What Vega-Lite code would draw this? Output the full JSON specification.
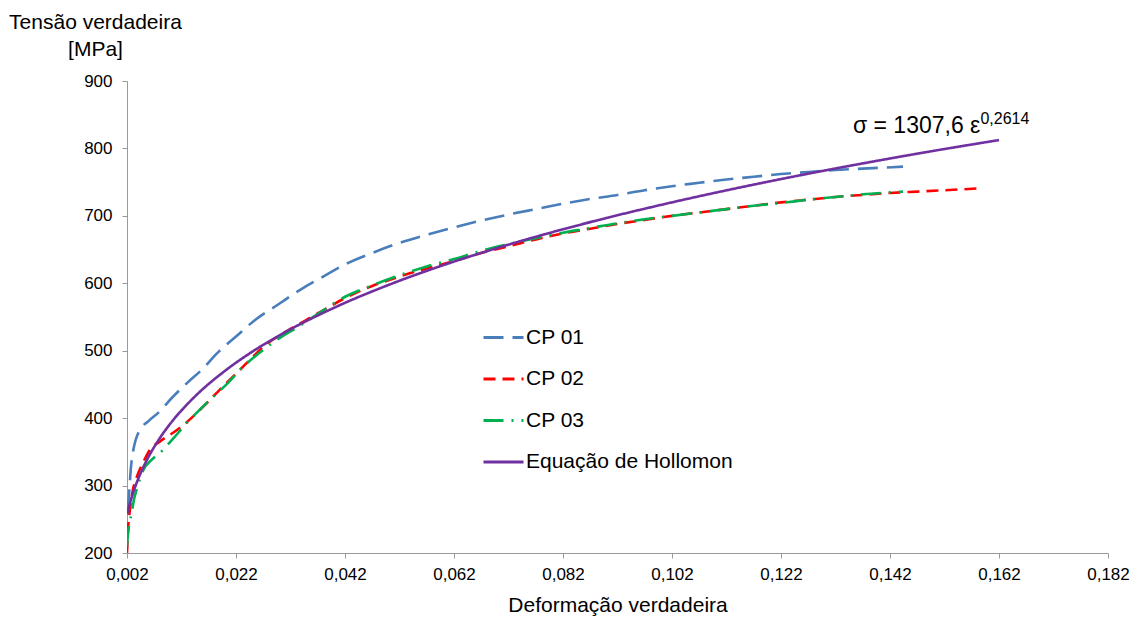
{
  "$schema": "https://vega.github.io/schema/vega-lite/v6.json",
  "autosize": "none",
  "width": 981,
  "height": 472,
  "padding": {"left": 127, "top": 81, "right": 32, "bottom": 64},
  "background": "white",
  "config": {
    "view": {"stroke": null},
    "font": "Liberation Sans",
    "axis": {"labelFont": "Liberation Sans", "titleFont": "Liberation Sans", "labelColor": "#000000", "titleColor": "#000000", "titleFontWeight": "normal", "domainColor": "#9a9a9a", "tickColor": "#9a9a9a", "grid": false, "labelFlush": false}
  },
  "datasets": {
    "curves": [
      {"serie": "CP 01", "eps": 0.0021, "sigma": 265},
      {"serie": "CP 01", "eps": 0.0024, "sigma": 290},
      {"serie": "CP 01", "eps": 0.0027, "sigma": 325},
      {"serie": "CP 01", "eps": 0.0031, "sigma": 350},
      {"serie": "CP 01", "eps": 0.0036, "sigma": 368},
      {"serie": "CP 01", "eps": 0.0045, "sigma": 384},
      {"serie": "CP 01", "eps": 0.006, "sigma": 396},
      {"serie": "CP 01", "eps": 0.008, "sigma": 410},
      {"serie": "CP 01", "eps": 0.01, "sigma": 428},
      {"serie": "CP 01", "eps": 0.013, "sigma": 452},
      {"serie": "CP 01", "eps": 0.016, "sigma": 474},
      {"serie": "CP 01", "eps": 0.0185, "sigma": 496},
      {"serie": "CP 01", "eps": 0.022, "sigma": 521},
      {"serie": "CP 01", "eps": 0.0251, "sigma": 543},
      {"serie": "CP 01", "eps": 0.03, "sigma": 570},
      {"serie": "CP 01", "eps": 0.0337, "sigma": 590},
      {"serie": "CP 01", "eps": 0.038, "sigma": 610},
      {"serie": "CP 01", "eps": 0.042, "sigma": 628},
      {"serie": "CP 01", "eps": 0.047, "sigma": 645},
      {"serie": "CP 01", "eps": 0.052, "sigma": 660},
      {"serie": "CP 01", "eps": 0.057, "sigma": 672},
      {"serie": "CP 01", "eps": 0.062, "sigma": 683},
      {"serie": "CP 01", "eps": 0.067, "sigma": 693},
      {"serie": "CP 01", "eps": 0.072, "sigma": 702},
      {"serie": "CP 01", "eps": 0.077, "sigma": 710},
      {"serie": "CP 01", "eps": 0.082, "sigma": 718},
      {"serie": "CP 01", "eps": 0.087, "sigma": 725},
      {"serie": "CP 01", "eps": 0.092, "sigma": 731},
      {"serie": "CP 01", "eps": 0.097, "sigma": 738},
      {"serie": "CP 01", "eps": 0.102, "sigma": 744},
      {"serie": "CP 01", "eps": 0.107, "sigma": 749},
      {"serie": "CP 01", "eps": 0.112, "sigma": 754},
      {"serie": "CP 01", "eps": 0.117, "sigma": 758},
      {"serie": "CP 01", "eps": 0.122, "sigma": 762},
      {"serie": "CP 01", "eps": 0.127, "sigma": 765},
      {"serie": "CP 01", "eps": 0.132, "sigma": 768},
      {"serie": "CP 01", "eps": 0.137, "sigma": 770},
      {"serie": "CP 01", "eps": 0.1444, "sigma": 773},
      {"serie": "CP 02", "eps": 0.002, "sigma": 200},
      {"serie": "CP 02", "eps": 0.0022, "sigma": 235},
      {"serie": "CP 02", "eps": 0.0025, "sigma": 262},
      {"serie": "CP 02", "eps": 0.003, "sigma": 290},
      {"serie": "CP 02", "eps": 0.0038, "sigma": 313},
      {"serie": "CP 02", "eps": 0.005, "sigma": 335},
      {"serie": "CP 02", "eps": 0.0062, "sigma": 353},
      {"serie": "CP 02", "eps": 0.008, "sigma": 365},
      {"serie": "CP 02", "eps": 0.0111, "sigma": 382},
      {"serie": "CP 02", "eps": 0.0138, "sigma": 400},
      {"serie": "CP 02", "eps": 0.0166, "sigma": 422},
      {"serie": "CP 02", "eps": 0.019, "sigma": 442},
      {"serie": "CP 02", "eps": 0.0214, "sigma": 461},
      {"serie": "CP 02", "eps": 0.0245, "sigma": 486},
      {"serie": "CP 02", "eps": 0.0276, "sigma": 510},
      {"serie": "CP 02", "eps": 0.0305, "sigma": 525},
      {"serie": "CP 02", "eps": 0.0337, "sigma": 540},
      {"serie": "CP 02", "eps": 0.038, "sigma": 560},
      {"serie": "CP 02", "eps": 0.042, "sigma": 578},
      {"serie": "CP 02", "eps": 0.047, "sigma": 596},
      {"serie": "CP 02", "eps": 0.052, "sigma": 610},
      {"serie": "CP 02", "eps": 0.057, "sigma": 622},
      {"serie": "CP 02", "eps": 0.062, "sigma": 633},
      {"serie": "CP 02", "eps": 0.067, "sigma": 645},
      {"serie": "CP 02", "eps": 0.072, "sigma": 655},
      {"serie": "CP 02", "eps": 0.077, "sigma": 665},
      {"serie": "CP 02", "eps": 0.082, "sigma": 674},
      {"serie": "CP 02", "eps": 0.087, "sigma": 681},
      {"serie": "CP 02", "eps": 0.092, "sigma": 688},
      {"serie": "CP 02", "eps": 0.097, "sigma": 694},
      {"serie": "CP 02", "eps": 0.102, "sigma": 700},
      {"serie": "CP 02", "eps": 0.107, "sigma": 705},
      {"serie": "CP 02", "eps": 0.112, "sigma": 710},
      {"serie": "CP 02", "eps": 0.117, "sigma": 715},
      {"serie": "CP 02", "eps": 0.122, "sigma": 720},
      {"serie": "CP 02", "eps": 0.127, "sigma": 724},
      {"serie": "CP 02", "eps": 0.132, "sigma": 728},
      {"serie": "CP 02", "eps": 0.137, "sigma": 731},
      {"serie": "CP 02", "eps": 0.142, "sigma": 734},
      {"serie": "CP 02", "eps": 0.147, "sigma": 736},
      {"serie": "CP 02", "eps": 0.152, "sigma": 738},
      {"serie": "CP 02", "eps": 0.159, "sigma": 741},
      {"serie": "CP 03", "eps": 0.002, "sigma": 210},
      {"serie": "CP 03", "eps": 0.0022, "sigma": 230},
      {"serie": "CP 03", "eps": 0.0025, "sigma": 245},
      {"serie": "CP 03", "eps": 0.0029, "sigma": 262},
      {"serie": "CP 03", "eps": 0.0033, "sigma": 280},
      {"serie": "CP 03", "eps": 0.0038, "sigma": 295},
      {"serie": "CP 03", "eps": 0.005, "sigma": 323},
      {"serie": "CP 03", "eps": 0.0065, "sigma": 338},
      {"serie": "CP 03", "eps": 0.008, "sigma": 348},
      {"serie": "CP 03", "eps": 0.0105, "sigma": 370},
      {"serie": "CP 03", "eps": 0.013, "sigma": 393},
      {"serie": "CP 03", "eps": 0.0172, "sigma": 427},
      {"serie": "CP 03", "eps": 0.0205, "sigma": 452},
      {"serie": "CP 03", "eps": 0.0233, "sigma": 476},
      {"serie": "CP 03", "eps": 0.0265, "sigma": 498},
      {"serie": "CP 03", "eps": 0.0295, "sigma": 516},
      {"serie": "CP 03", "eps": 0.0337, "sigma": 537},
      {"serie": "CP 03", "eps": 0.038, "sigma": 560},
      {"serie": "CP 03", "eps": 0.042, "sigma": 580},
      {"serie": "CP 03", "eps": 0.047, "sigma": 597},
      {"serie": "CP 03", "eps": 0.052, "sigma": 612},
      {"serie": "CP 03", "eps": 0.057, "sigma": 625},
      {"serie": "CP 03", "eps": 0.062, "sigma": 636},
      {"serie": "CP 03", "eps": 0.067, "sigma": 648},
      {"serie": "CP 03", "eps": 0.072, "sigma": 658},
      {"serie": "CP 03", "eps": 0.077, "sigma": 667},
      {"serie": "CP 03", "eps": 0.082, "sigma": 675},
      {"serie": "CP 03", "eps": 0.087, "sigma": 682},
      {"serie": "CP 03", "eps": 0.092, "sigma": 689},
      {"serie": "CP 03", "eps": 0.097, "sigma": 695},
      {"serie": "CP 03", "eps": 0.102, "sigma": 700},
      {"serie": "CP 03", "eps": 0.107, "sigma": 705},
      {"serie": "CP 03", "eps": 0.112, "sigma": 710},
      {"serie": "CP 03", "eps": 0.117, "sigma": 715},
      {"serie": "CP 03", "eps": 0.122, "sigma": 719},
      {"serie": "CP 03", "eps": 0.127, "sigma": 724},
      {"serie": "CP 03", "eps": 0.132, "sigma": 728},
      {"serie": "CP 03", "eps": 0.137, "sigma": 732},
      {"serie": "CP 03", "eps": 0.1444, "sigma": 736},
      {"serie": "Equação de Hollomon", "eps": 0.002, "sigma": 257.5},
      {"serie": "Equação de Hollomon", "eps": 0.003, "sigma": 286.4},
      {"serie": "Equação de Hollomon", "eps": 0.004, "sigma": 308.8},
      {"serie": "Equação de Hollomon", "eps": 0.005, "sigma": 327.3},
      {"serie": "Equação de Hollomon", "eps": 0.006, "sigma": 343.3},
      {"serie": "Equação de Hollomon", "eps": 0.008, "sigma": 370.1},
      {"serie": "Equação de Hollomon", "eps": 0.01, "sigma": 392.4},
      {"serie": "Equação de Hollomon", "eps": 0.012, "sigma": 411.5},
      {"serie": "Equação de Hollomon", "eps": 0.015, "sigma": 436.3},
      {"serie": "Equação de Hollomon", "eps": 0.02, "sigma": 470.3},
      {"serie": "Equação de Hollomon", "eps": 0.025, "sigma": 498.6},
      {"serie": "Equação de Hollomon", "eps": 0.03, "sigma": 522.9},
      {"serie": "Equação de Hollomon", "eps": 0.04, "sigma": 563.7},
      {"serie": "Equação de Hollomon", "eps": 0.05, "sigma": 597.6},
      {"serie": "Equação de Hollomon", "eps": 0.06, "sigma": 626.8},
      {"serie": "Equação de Hollomon", "eps": 0.07, "sigma": 652.5},
      {"serie": "Equação de Hollomon", "eps": 0.08, "sigma": 675.7},
      {"serie": "Equação de Hollomon", "eps": 0.09, "sigma": 696.9},
      {"serie": "Equação de Hollomon", "eps": 0.1, "sigma": 716.3},
      {"serie": "Equação de Hollomon", "eps": 0.11, "sigma": 734.4},
      {"serie": "Equação de Hollomon", "eps": 0.12, "sigma": 751.3},
      {"serie": "Equação de Hollomon", "eps": 0.13, "sigma": 767.2},
      {"serie": "Equação de Hollomon", "eps": 0.14, "sigma": 782.2},
      {"serie": "Equação de Hollomon", "eps": 0.15, "sigma": 796.4},
      {"serie": "Equação de Hollomon", "eps": 0.162, "sigma": 812.4}
    ],
    "notes": [
      {"eps": 0.1352, "sigma": 823, "txt": "σ = 1307,6 ε", "kind": "main"},
      {"eps": 0.1586, "sigma": 836.5, "txt": "0,2614", "kind": "sup"}
    ]
  },
  "layer": [
    {
      "data": {"name": "curves"},
      "mark": {"type": "line", "strokeWidth": 2.6, "interpolate": "monotone", "clip": true},
      "encoding": {
        "x": {
          "field": "eps", "type": "quantitative",
          "scale": {"domain": [0.002, 0.182], "nice": false, "zero": false},
          "axis": {
            "values": [0.002, 0.022, 0.042, 0.062, 0.082, 0.102, 0.122, 0.142, 0.162, 0.182],
            "labelExpr": "replace(format(datum.value, '.3f'), '.', ',')",
            "labelFontSize": 17, "labelPadding": 8, "tickSize": 5, "labelFlush": false,
            "title": "Deformação verdadeira", "titleFontSize": 21, "titlePadding": 12
          }
        },
        "y": {
          "field": "sigma", "type": "quantitative",
          "scale": {"domain": [200, 900], "nice": false, "zero": false},
          "axis": {
            "values": [200, 300, 400, 500, 600, 700, 800, 900],
            "labelFontSize": 17, "labelPadding": 10, "tickSize": 5, "labelFlush": false,
            "title": ["Tensão verdadeira", "[MPa]"], "titleFontSize": 21,
            "titleAngle": 0, "titleAlign": "center", "titleBaseline": "alphabetic",
            "titleX": -32, "titleY": -53, "titleLineHeight": 27
          }
        },
        "color": {
          "field": "serie", "type": "nominal",
          "scale": {"domain": ["CP 01", "CP 02", "CP 03", "Equação de Hollomon"], "range": ["#4a7ebb", "#ff0000", "#00b050", "#7030a0"]},
          "legend": {
            "orient": "none", "legendX": 355, "legendY": 235, "title": null,
            "symbolType": "stroke", "symbolSize": 1600, "symbolStrokeWidth": 3,
            "labelFontSize": 21, "labelColor": "#000000", "labelFont": "Liberation Sans", "labelLimit": 400,
            "rowPadding": 9.5, "labelOffset": 1, "padding": 0
          }
        },
        "strokeDash": {
          "field": "serie", "type": "nominal",
          "scale": {"domain": ["CP 01", "CP 02", "CP 03", "Equação de Hollomon"], "range": [[20, 9], [12, 7], [20, 8, 2, 8], [1, 0]]},
          "legend": null
        }
      }
    },
    {
      "data": {"name": "notes"},
      "transform": [{"filter": "datum.kind == 'main'"}],
      "mark": {"type": "text", "align": "left", "baseline": "alphabetic", "fontSize": 23, "font": "Liberation Sans", "color": "#000000"},
      "encoding": {
        "x": {"field": "eps", "type": "quantitative"},
        "y": {"field": "sigma", "type": "quantitative"},
        "text": {"field": "txt"}
      }
    },
    {
      "data": {"name": "notes"},
      "transform": [{"filter": "datum.kind == 'sup'"}],
      "mark": {"type": "text", "align": "left", "baseline": "alphabetic", "fontSize": 16, "font": "Liberation Sans", "color": "#000000"},
      "encoding": {
        "x": {"field": "eps", "type": "quantitative"},
        "y": {"field": "sigma", "type": "quantitative"},
        "text": {"field": "txt"}
      }
    }
  ]
}
